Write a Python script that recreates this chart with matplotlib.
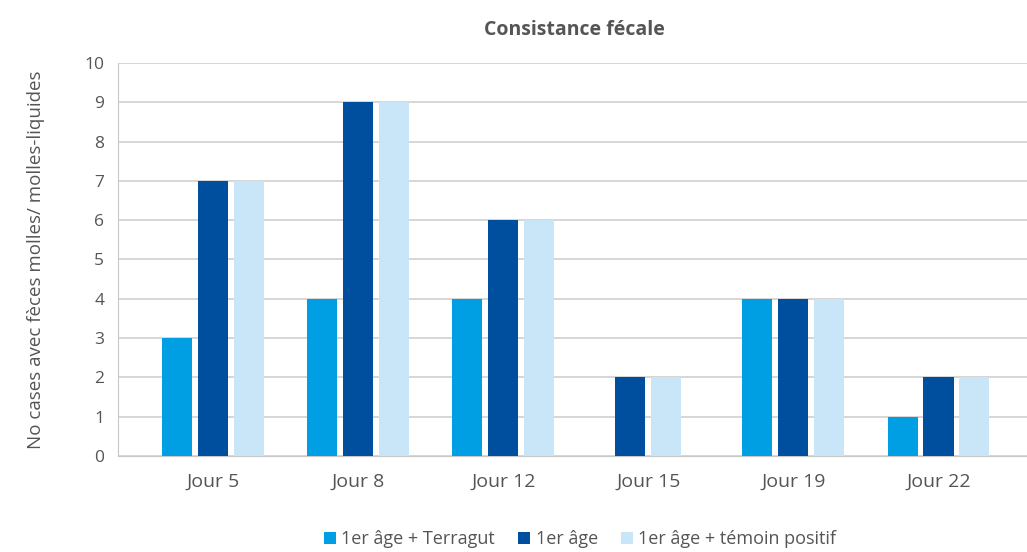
import numpy as np
import matplotlib.pyplot as plt

# Consistance fécale
jours = ['Jour 5', 'Jour 8', 'Jour 12', 'Jour 15', 'Jour 19', 'Jour 22']
terragut = [3, 4, 4, np.nan, 4, 1]
premier_age = [7, 9, 6, 2, 4, 2]
temoin = [7, 9, 6, 2, 4, 2]
series = ['1er âge + Terragut', '1er âge', '1er âge + témoin positif']
couleurs = ['#009fe3', '#004f9f', '#c9e6f8']

plt.rcParams['font.family'] = ['Open Sans', 'DejaVu Sans']
gris = '#555555'

fig = plt.figure(figsize=(10.27, 5.52), dpi=100)
ax = fig.add_axes([0.115, 0.174, 0.885, 0.712])

valeurs = np.array([terragut, premier_age, temoin], dtype=float)
w = 0.207
pas = 0.248
x = np.arange(len(jours))
for i in range(len(jours)):
    present = [k for k in range(3) if not np.isnan(valeurs[k, i])]
    n = len(present)
    for j, k in enumerate(present):
        pos = x[i] + (j - (n - 1) / 2) * pas
        ax.bar(pos, valeurs[k, i], width=w, color=couleurs[k], zorder=3)

for k in range(3):
    ax.bar(np.nan, 0, color=couleurs[k], label=series[k])

ax.set_xlim(-0.655, 5.61)
ax.set_ylim(0, 10)
ax.set_yticks(range(0, 11))
ax.set_xticks(x)
ax.set_xticklabels(jours)
ax.tick_params(length=0, colors=gris, labelsize=12.5)
ax.tick_params(axis='x', labelsize=14, pad=12)
ax.tick_params(axis='y', pad=10)
ax.grid(axis='y', color='#d0d0d0', linewidth=1.2, zorder=0)
for s in ['top', 'right']:
    ax.spines[s].set_visible(False)
ax.spines['left'].set_color('#c8c8c8')
ax.spines['bottom'].set_color('#c8c8c8')
ax.set_ylabel('No cases avec fèces molles/ molles-liquides', color=gris, fontsize=13.5, labelpad=28)
ax.set_title('Consistance fécale', color=gris, fontsize=14, fontweight='bold', pad=20)
ax.title.set_position((0.502, 1))

fig.legend(loc='lower center', bbox_to_anchor=(0.565, -0.022), ncol=3, frameon=False,
           handlelength=0.65, handleheight=0.65, handletextpad=0.3, columnspacing=1.3,
           fontsize=13, labelcolor=gris)

plt.savefig('out.png', dpi=100)
